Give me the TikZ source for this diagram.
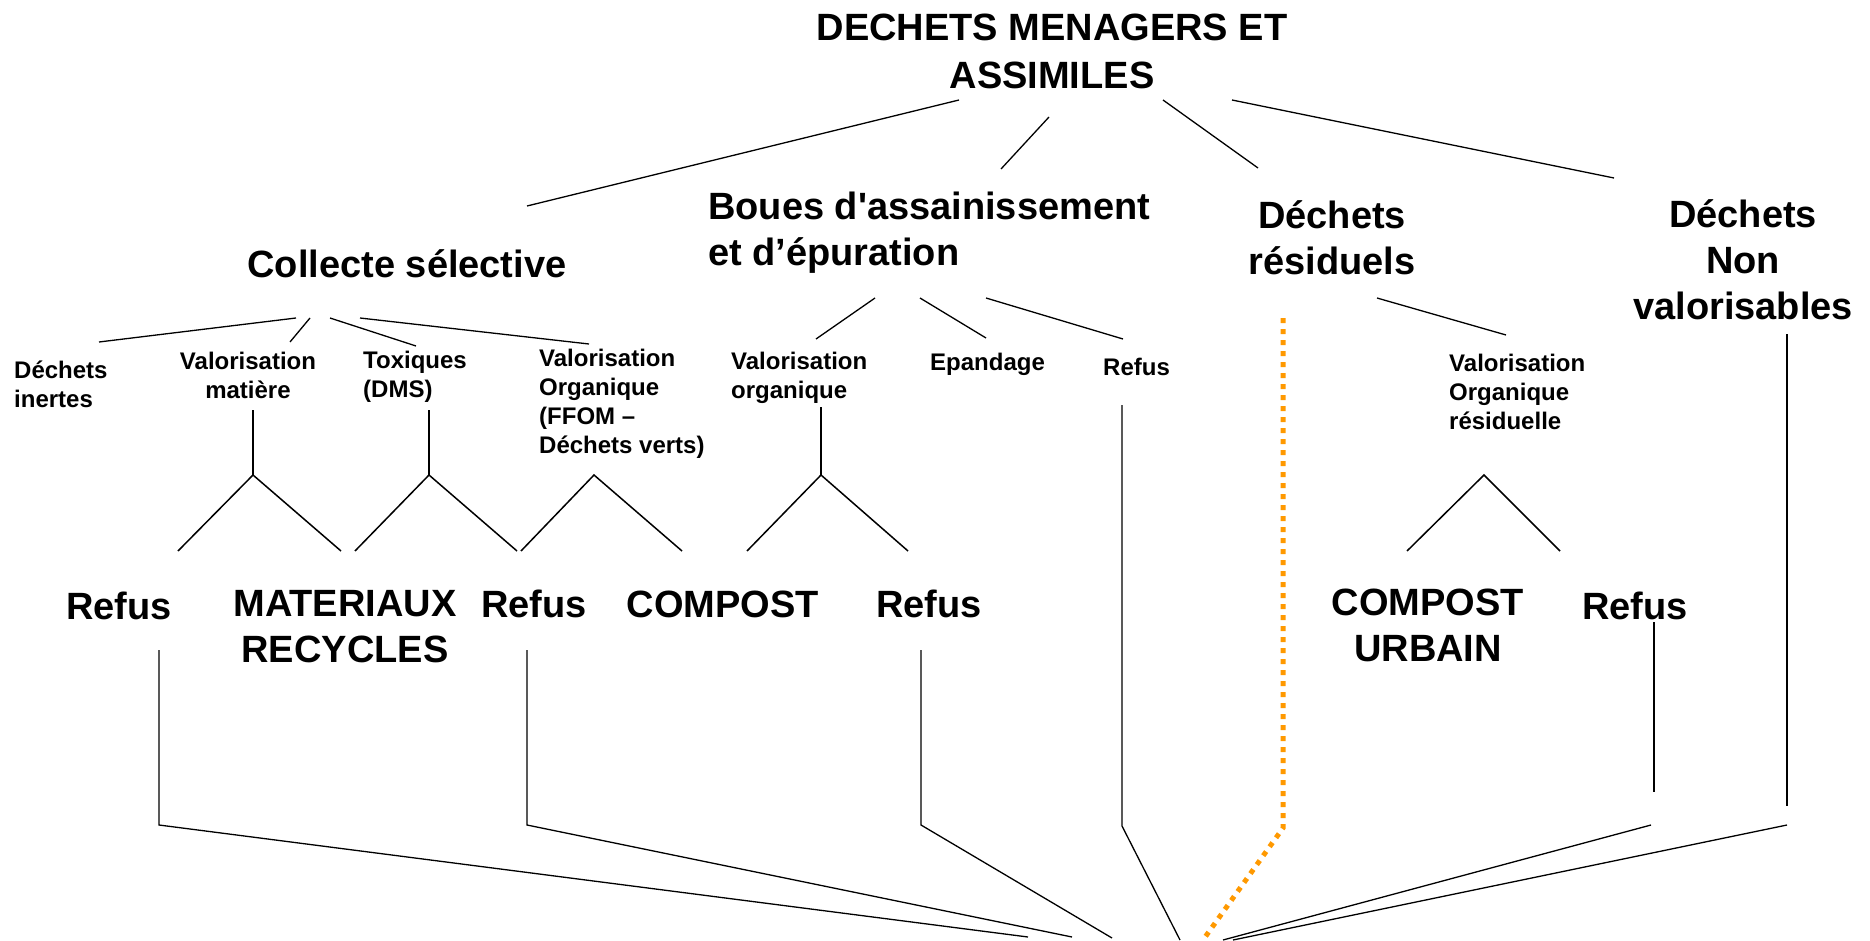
\documentclass[tikz,border=0pt]{standalone}
\usepackage{fontspec}
\setmainfont{Liberation Sans}
\definecolor{flowline}{RGB}{0,0,0}
\definecolor{residual}{RGB}{255,153,0}
% straight typewriter apostrophe, bypassing the TeX quote mapping
\newcommand{\straightapos}{\XeTeXglyph\XeTeXcharglyph"0027\relax}
\begin{document}
\begin{tikzpicture}[x=1pt,y=-1pt,
  title/.style={font=\fontsize{38}{48}\selectfont\bfseries, inner sep=0pt, align=center},
  big/.style={font=\fontsize{38}{46}\selectfont\bfseries, inner sep=0pt},
  small/.style={font=\fontsize{24}{29}\selectfont\bfseries, inner sep=0pt},
  link/.style={draw=flowline, line width=1.3pt},
  fork/.style={draw=flowline, line width=1.5pt, line join=miter},
  residualpath/.style={draw=residual, line width=5pt, dash pattern=on 5pt off 6pt}]
\useasboundingbox (0,0) rectangle (1870,941);

% ---------- main categories ----------
\node[title] (dma) at (1052,51) {DECHETS MENAGERS ET\\ASSIMILES};
\node[big, align=center] (cs) at (407,264) {Collecte sélective};
\node[big, align=left, anchor=west] (boues) at (708,233) {Boues d\straightapos assainissement\\et d’épuration};
\node[big, align=center] (dr) at (1332,238) {Déchets\\résiduels};
\node[big, align=center] (dnv) at (1743,260) {Déchets\\Non\\valorisables};

% ---------- sub-streams ----------
\node[small, align=left, anchor=west] (inertes) at (14,384) {Déchets\\inertes};
\node[small, align=center] (vmat) at (248,375) {Valorisation\\matière};
\node[small, align=left, anchor=west] (tox) at (363,377) {Toxiques\\(DMS)};
\node[small, align=left, anchor=west] (ffom) at (539,404) {Valorisation\\Organique\\(FFOM –\\Déchets verts)};
\node[small, align=left, anchor=west] (vorg) at (731,378) {Valorisation\\organique};
\node[small, anchor=west] (epand) at (930,364) {Epandage};
\node[small, anchor=west] (refs) at (1103,367) {Refus};
\node[small, align=left, anchor=west] (vores) at (1449,392) {Valorisation\\Organique\\résiduelle};

% ---------- outputs ----------
\node[big] (ref1) at (119,606) {Refus};
\node[big, align=center] (mat) at (345,627) {MATERIAUX\\RECYCLES};
\node[big] (ref2) at (534,604) {Refus};
\node[big] (comp) at (723,604) {COMPOST};
\node[big] (ref3) at (929,604) {Refus};
\node[big, align=center] (cu) at (1428,625) {COMPOST\\URBAIN};
\node[big] (ref4) at (1635,606) {Refus};

% ---------- connector end points ----------
\coordinate (dma-cs)  at (959,100);  \coordinate (cs-top)    at (527,206);
\coordinate (dma-bo)  at (1049,117); \coordinate (bo-top)    at (1001,169);
\coordinate (dma-dr)  at (1163,100); \coordinate (dr-top)    at (1258,168);
\coordinate (dma-nv)  at (1232,100); \coordinate (nv-top)    at (1614,178);

\coordinate (cs-a) at (296,318); \coordinate (in-top)   at (99,342);
\coordinate (cs-b) at (310,318); \coordinate (vm-top)   at (290,342);
\coordinate (cs-c) at (330,318); \coordinate (tx-top)   at (416,346);
\coordinate (cs-d) at (360,318); \coordinate (ff-top)   at (589,344);

\coordinate (bo-a) at (875,298);  \coordinate (vo-top) at (816,339);
\coordinate (bo-b) at (920,298);  \coordinate (ep-top) at (986,338);
\coordinate (bo-c) at (986,298);  \coordinate (rs-top) at (1123,339);

\coordinate (dr-a) at (1377,298); \coordinate (vr-top) at (1506,335);

% forks towards the outputs
\coordinate (vm-stub) at (253,410); \coordinate (pk1) at (253,475);
\coordinate (pk1-l) at (178,551);   \coordinate (pk1-r) at (341,551);
\coordinate (tx-stub) at (429,410); \coordinate (pk2) at (429,475);
\coordinate (pk2-l) at (355,551);   \coordinate (pk2-r) at (517,551);
\coordinate (pk3) at (594,475);
\coordinate (pk3-l) at (521,551);   \coordinate (pk3-r) at (682,551);
\coordinate (vo-stub) at (821,407); \coordinate (pk4) at (821,475);
\coordinate (pk4-l) at (747,551);   \coordinate (pk4-r) at (908,551);
\coordinate (pk5) at (1484,475);
\coordinate (pk5-l) at (1407,551);  \coordinate (pk5-r) at (1560,551);

% collection lines to the final sink
\coordinate (r1-a) at (159,650);  \coordinate (r1-b) at (159,825);  \coordinate (s1) at (1028,937);
\coordinate (r2-a) at (527,650);  \coordinate (r2-b) at (527,825);  \coordinate (s2) at (1072,937);
\coordinate (r3-a) at (921,650);  \coordinate (r3-b) at (921,825);  \coordinate (s3) at (1112,938);
\coordinate (rs-a) at (1122,405); \coordinate (rs-b) at (1122,826); \coordinate (s4) at (1180,940);
\coordinate (or-a) at (1283,318); \coordinate (or-b) at (1283,828); \coordinate (s5) at (1203,940);
\coordinate (r4-a) at (1654,622); \coordinate (r4-b) at (1654,792);
\coordinate (r4-c) at (1651,825); \coordinate (s6) at (1223,940);
\coordinate (nv-a) at (1787,334); \coordinate (nv-b) at (1787,806);
\coordinate (nv-c) at (1787,825); \coordinate (s7) at (1233,940);

% ---------- connectors ----------
\draw[link] (dma-cs) -- (cs-top);
\draw[link] (dma-bo) -- (bo-top);
\draw[link] (dma-dr) -- (dr-top);
\draw[link] (dma-nv) -- (nv-top);

\draw[link] (cs-a) -- (in-top);
\draw[link] (cs-b) -- (vm-top);
\draw[link] (cs-c) -- (tx-top);
\draw[link] (cs-d) -- (ff-top);

\draw[link] (bo-a) -- (vo-top);
\draw[link] (bo-b) -- (ep-top);
\draw[link] (bo-c) -- (rs-top);

\draw[link] (dr-a) -- (vr-top);

\draw[link] (vm-stub) -- (pk1);
\draw[fork] (pk1-l) -- (pk1) -- (pk1-r);
\draw[link] (tx-stub) -- (pk2);
\draw[fork] (pk2-l) -- (pk2) -- (pk2-r);
\draw[fork] (pk3-l) -- (pk3) -- (pk3-r);
\draw[link] (vo-stub) -- (pk4);
\draw[fork] (pk4-l) -- (pk4) -- (pk4-r);
\draw[fork] (pk5-l) -- (pk5) -- (pk5-r);

\draw[link] (r1-a) -- (r1-b) -- (s1);
\draw[link] (r2-a) -- (r2-b) -- (s2);
\draw[link] (r3-a) -- (r3-b) -- (s3);
\draw[link] (rs-a) -- (rs-b) -- (s4);
\draw[residualpath] (or-a) -- (or-b) -- (s5);
\draw[link] (r4-a) -- (r4-b);
\draw[link] (r4-c) -- (s6);
\draw[link] (nv-a) -- (nv-b);
\draw[link] (nv-c) -- (s7);
\end{tikzpicture}
\end{document}
